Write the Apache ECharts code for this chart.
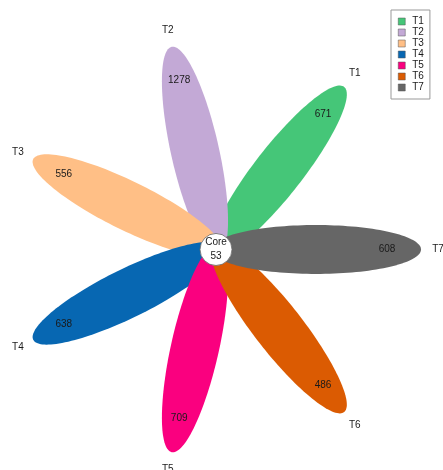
<!DOCTYPE html>
<html>
<head>
<meta charset="utf-8">
<style>
  html, body { margin: 0; padding: 0; background: #ffffff; }
  #chart { width: 443px; height: 470px; }
</style>
<script src="https://cdn.jsdelivr.net/npm/echarts@6/dist/echarts.min.js"></script>
</head>
<body>
<div id="chart"></div>
<script>
// Flower plot: one petal per group with its unique count, shared core in the middle
const groups = ['T1', 'T2', 'T3', 'T4', 'T5', 'T6', 'T7'];
const uniqueCounts = [671, 1278, 556, 638, 709, 486, 608];
const petalColors = ['#45C678', '#C3A9D6', '#FFBF86', '#0767B2', '#FA007F', '#DB5B02', '#666666'];
const coreLabel = 'Core';
const coreCount = 53;

const FONT = 'Liberation Sans, Arial, sans-serif';
const PETAL_OFFSET = 99;   // distance from core to petal centre (axis units)
const PETAL_RX = 105;
const PETAL_RY = 24;
const VALUE_R = 170;
const NAME_R = 221;

const chart = echarts.init(document.getElementById('chart'), null, { renderer: 'canvas' });

function petalRender(params, api) {
  const k = api.value(0);
  const count = api.value(1);
  const theta = (k + 1) * 2 * Math.PI / groups.length;
  const ux = Math.cos(theta), uy = Math.sin(theta);
  const vx = -uy, vy = ux;
  const cx = PETAL_OFFSET * ux, cy = PETAL_OFFSET * uy;
  const pts = [];
  const n = 144;
  for (let i = 0; i < n; i++) {
    const t = i / n * 2 * Math.PI;
    const a = PETAL_RX * Math.cos(t), b = PETAL_RY * Math.sin(t);
    pts.push(api.coord([cx + a * ux + b * vx, cy + a * uy + b * vy]));
  }
  const vp = api.coord([VALUE_R * ux, VALUE_R * uy]);
  const np = api.coord([NAME_R * ux, NAME_R * uy]);
  return {
    type: 'group',
    children: [
      { type: 'polygon', shape: { points: pts }, style: { fill: api.visual('color') } },
      { type: 'text', x: vp[0], y: vp[1], z2: 10,
        style: { text: String(count), font: '10px ' + FONT, fill: '#1a1a1a', align: 'center', verticalAlign: 'middle' } },
      { type: 'text', x: np[0], y: np[1], z2: 10,
        style: { text: groups[k], font: '10px ' + FONT, fill: '#1a1a1a', align: 'center', verticalAlign: 'middle' } }
    ]
  };
}

function coreRender(params, api) {
  const c = api.coord([0, 0]);
  return {
    type: 'group',
    children: [
      { type: 'circle', shape: { cx: c[0] - 1, cy: c[1], r: 16 },
        style: { fill: '#ffffff', stroke: '#666666', lineWidth: 0.8 } },
      { type: 'text', x: c[0] - 1, y: c[1] - 7,
        style: { text: coreLabel, font: '10px ' + FONT, fill: '#1a1a1a', align: 'center', verticalAlign: 'middle' } },
      { type: 'text', x: c[0] - 1, y: c[1] + 7,
        style: { text: String(coreCount), font: '10px ' + FONT, fill: '#1a1a1a', align: 'center', verticalAlign: 'middle' } }
    ]
  };
}

const series = groups.map((g, k) => ({
  name: g,
  type: 'custom',
  coordinateSystem: 'cartesian2d',
  clip: false,
  silent: true,
  itemStyle: { color: petalColors[k] },
  renderItem: petalRender,
  data: [[k, uniqueCounts[k]]],
  z: 2 + k
}));
series.push({
  name: coreLabel,
  type: 'custom',
  coordinateSystem: 'cartesian2d',
  clip: false,
  silent: true,
  renderItem: coreRender,
  data: [[0, coreCount]],
  z: 20
});

chart.setOption({
  animation: false,
  backgroundColor: '#ffffff',
  grid: { left: 0, right: 0, top: 0, bottom: 0 },
  // vertical unit is slightly taller than the horizontal one
  xAxis: { type: 'value', min: -217, max: 226, show: false },
  yAxis: { type: 'value', min: -216.4, max: 244.8, show: false },
  legend: {
    data: groups,
    orient: 'vertical',
    left: 391,
    top: 10,
    icon: 'rect',
    itemWidth: 7,
    itemHeight: 7,
    itemGap: 0,
    itemStyle: { borderColor: '#555', borderWidth: 0.5 },
    selectedMode: false,
    borderColor: '#999999',
    borderWidth: 1,
    borderRadius: 0,
    padding: [6, 6, 6, 7],
    textStyle: { fontFamily: FONT, fontSize: 10, color: '#1a1a1a', lineHeight: 11, padding: [0, 0, 0, 2] }
  },
  series: series
});
</script>
</body>
</html>
